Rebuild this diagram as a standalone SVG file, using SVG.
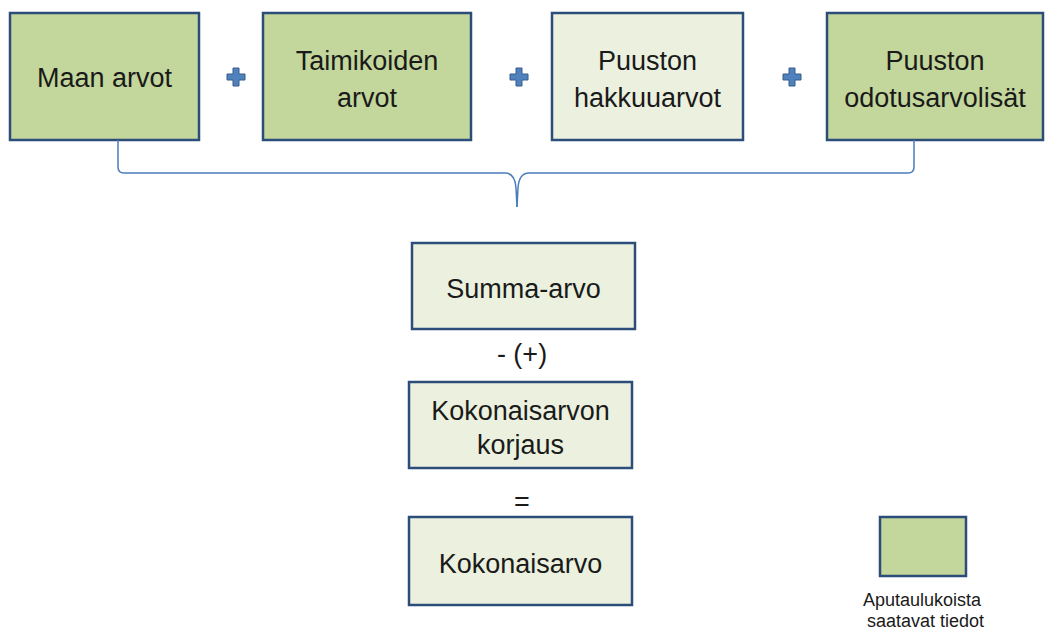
<svg xmlns="http://www.w3.org/2000/svg" width="1054" height="631" viewBox="0 0 1054 631">
<defs>
<style>
.g{fill:#c3d69b;stroke:#2c4d7a;stroke-width:2.5}
.l{fill:#ebf1de;stroke:#2c4d7a;stroke-width:2.5}
.t{font-family:"Liberation Sans",Arial,sans-serif;font-size:27px;fill:#1a1a1a;text-anchor:middle}
.s{font-family:"Liberation Sans",Arial,sans-serif;font-size:18px;fill:#1a1a1a}
.p{fill:#4f81bd;stroke:#385d8a;stroke-width:1}
.c{fill:none;stroke:#4a7ebb;stroke-width:1.5}
</style>
<path id="plus" d="M-3,-9 H3 V-3 H9 V3 H3 V9 H-3 V3 H-9 V-3 H-3 Z"/>
</defs>
<rect width="1054" height="631" fill="#fff"/>
<g id="maan"><rect class="g" x="10" y="13" width="189" height="127"/><text class="t" x="104.5" y="87">Maan arvot</text></g>
<g id="taimikoiden"><rect class="g" x="263" y="13" width="208" height="127"/><text class="t" x="367" y="70">Taimikoiden</text><text class="t" x="367" y="107">arvot</text></g>
<g id="hakkuu"><rect class="l" x="552" y="13" width="191" height="127"/><text class="t" x="647.5" y="70">Puuston</text><text class="t" x="647.5" y="107">hakkuuarvot</text></g>
<g id="odotus"><rect class="g" x="827" y="13" width="216" height="127"/><text class="t" x="935" y="70">Puuston</text><text class="t" x="935" y="107">odotusarvolisät</text></g>
<g id="plusses">
<use href="#plus" class="p" x="236" y="77"/>
<use href="#plus" class="p" x="519" y="77"/>
<use href="#plus" class="p" x="792" y="77"/>
</g>
<g id="connectors">
<path class="c" d="M118,140 V167 Q118,173 124,173 H505 Q515,173 516,188 L517,207"/>
<path class="c" d="M914,140 V167 Q914,173 908,173 H529 Q519,173 518,188 L517,207"/>
</g>
<g id="summa"><rect class="l" x="412" y="243" width="223" height="86"/><text class="t" x="523.5" y="298">Summa-arvo</text></g>
<g id="op1"><text class="t" x="522" y="363">- (+)</text></g>
<g id="korjaus"><rect class="l" x="409" y="382" width="223" height="86"/><text class="t" x="520.5" y="420">Kokonaisarvon</text><text class="t" x="520.5" y="454">korjaus</text></g>
<g id="op2"><text class="t" x="522" y="511">=</text></g>
<g id="kokonais"><rect class="l" x="409" y="517" width="223" height="88"/><text class="t" x="520.5" y="573">Kokonaisarvo</text></g>
<g id="legend"><rect class="g" x="880" y="517" width="86" height="59"/><text class="s" x="863" y="606">Aputaulukoista</text><text class="s" x="867" y="627">saatavat tiedot</text></g>
</svg>
